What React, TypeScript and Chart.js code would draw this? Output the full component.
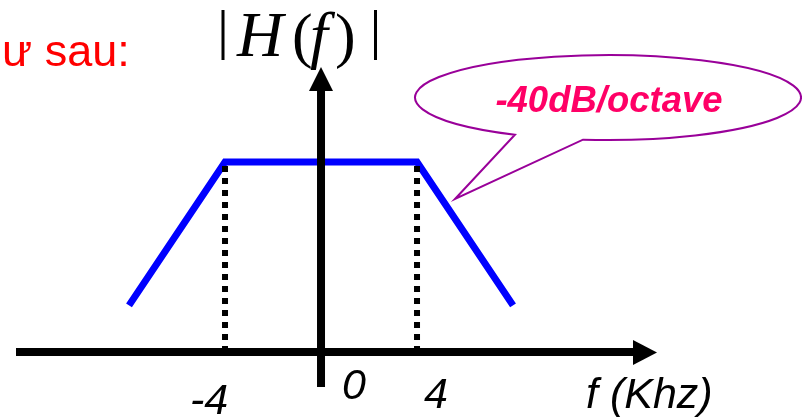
import React, { useEffect, useRef } from "react";
import { Chart, registerables } from "chart.js";

Chart.register(...registerables);

// Magnitude response of the band-limited filter (gain in dB vs. frequency in kHz)
const freqKhz = [-8, -4, 4, 8];
const gainDb = [-40, 0, 0, -40];
// Cut-off frequencies marked by dotted drop lines
const cutoffKhz = [-4, 4];
// Frequency tick labels
const tickValues = [-4, 0, 4];
const tickLabels = ["-4", "0", "4"];
// Level of the horizontal frequency axis
const axisFloorDb = -53;
const slopeLabel = "-40dB/octave";
const xAxisTitle = "f (Khz)";
const captionText = "ư sau:";

const W = 802;
const H = 417;

const SANS = '"Liberation Sans", Arial, sans-serif';
const SERIF = '"Liberation Serif", "Times New Roman", serif';

// Per-label placement relative to its tick (dx from tick, baseline y)
const tickLabelPlacement = [
  { dx: -16, baseline: 414 },
  { dx: 33, baseline: 399 },
  { dx: 19, baseline: 408 },
];

const overlayPlugin = {
  id: "diagramOverlay",
  afterDatasetsDraw(chart: any) {
    const ctx: CanvasRenderingContext2D = chart.ctx;
    const xs = chart.scales.x;
    const ys = chart.scales.y;
    const x0 = xs.getPixelForValue(0);
    const yAxis = ys.getPixelForValue(axisFloorDb);

    ctx.save();
    ctx.fillStyle = "#000";

    // horizontal frequency axis with arrow
    ctx.fillRect(16, yAxis - 4, 634 - 16, 8);
    ctx.beginPath();
    ctx.moveTo(633, yAxis - 12);
    ctx.lineTo(657, yAxis + 0.5);
    ctx.lineTo(633, yAxis + 13);
    ctx.closePath();
    ctx.fill();

    // vertical magnitude axis with arrow
    ctx.fillRect(x0 - 4, 90, 8, 387 - 90);
    ctx.beginPath();
    ctx.moveTo(x0 - 12, 91);
    ctx.lineTo(x0, 67);
    ctx.lineTo(x0 + 12, 91);
    ctx.closePath();
    ctx.fill();

    // frequency tick labels
    ctx.font = `italic 43px ${SANS}`;
    ctx.textAlign = "center";
    ctx.textBaseline = "alphabetic";
    tickValues.forEach((v, i) => {
      const p = tickLabelPlacement[i];
      ctx.fillText(tickLabels[i], xs.getPixelForValue(v) + p.dx, p.baseline);
    });
    ctx.textAlign = "left";
    ctx.fillText(xAxisTitle, 586, 408);

    // |H(f)| label
    ctx.fillRect(221.5, 10, 3, 50);
    ctx.fillRect(374, 10, 3, 50);
    ctx.font = `italic 64px ${SERIF}`;
    ctx.fillText("H", 237, 56);
    ctx.fillText("f", 310, 56);
    ctx.font = `62px ${SERIF}`;
    ctx.fillText("(", 292, 56);
    ctx.fillText(")", 335, 56);

    // caption fragment
    ctx.fillStyle = "#FF0000";
    ctx.font = `45px ${SANS}`;
    ctx.fillText(captionText, 2, 66);

    // callout bubble pointing at the roll-off slope
    const cx = 608, cy = 97.5, rx = 193, ry = 42.5;
    const tip = { x: 455, y: 199 };
    const tOf = (x: number, y: number) => Math.atan2((y - cy) / ry, (x - cx) / rx);
    const tLeft = tOf(515, 134.7);
    const tRight = tOf(583, 139.6);
    ctx.beginPath();
    ctx.ellipse(cx, cy, rx, ry, 0, tLeft, tRight, false);
    ctx.lineTo(tip.x, tip.y);
    ctx.closePath();
    ctx.fillStyle = "#FFFFFF";
    ctx.fill();
    ctx.strokeStyle = "#990099";
    ctx.lineWidth = 2;
    ctx.lineJoin = "miter";
    ctx.stroke();

    ctx.fillStyle = "#FF0066";
    ctx.font = `italic bold 36.5px ${SANS}`;
    ctx.textAlign = "center";
    ctx.fillText(slopeLabel, 609, 112);
    ctx.restore();
  },
};

export default function App() {
  const ref = useRef<HTMLCanvasElement>(null);

  useEffect(() => {
    const canvas = ref.current;
    if (!canvas) return;
    const chart = new Chart(canvas, {
      type: "scatter",
      data: {
        datasets: [
          ...cutoffKhz.map((f) => ({
            data: [
              { x: f, y: axisFloorDb },
              { x: f, y: 0 },
            ],
            showLine: true,
            borderColor: "#000000",
            borderWidth: 6,
            borderDash: [6, 6],
            borderCapStyle: "butt" as const,
            pointRadius: 0,
          })),
          {
            data: freqKhz.map((f, i) => ({ x: f, y: gainDb[i] })),
            showLine: true,
            borderColor: "#0000FF",
            borderWidth: 7,
            borderJoinStyle: "miter" as const,
            pointRadius: 0,
          },
        ],
      },
      options: {
        responsive: false,
        animation: false,
        events: [],
        layout: { padding: 0 },
        plugins: {
          legend: { display: false },
          tooltip: { enabled: false },
        },
        scales: {
          x: { type: "linear", display: false, min: -13.375, max: 20.04 },
          y: { type: "linear", display: false, min: -71.13, max: 45.19 },
        },
      },
      plugins: [overlayPlugin],
    });
    return () => chart.destroy();
  }, []);

  return (
    <div
      style={{
        position: "absolute",
        left: 0,
        top: 0,
        width: W,
        height: H,
        background: "#FFFFFF",
      }}
    >
      <canvas ref={ref} width={W} height={H} style={{ display: "block" }} />
    </div>
  );
}
